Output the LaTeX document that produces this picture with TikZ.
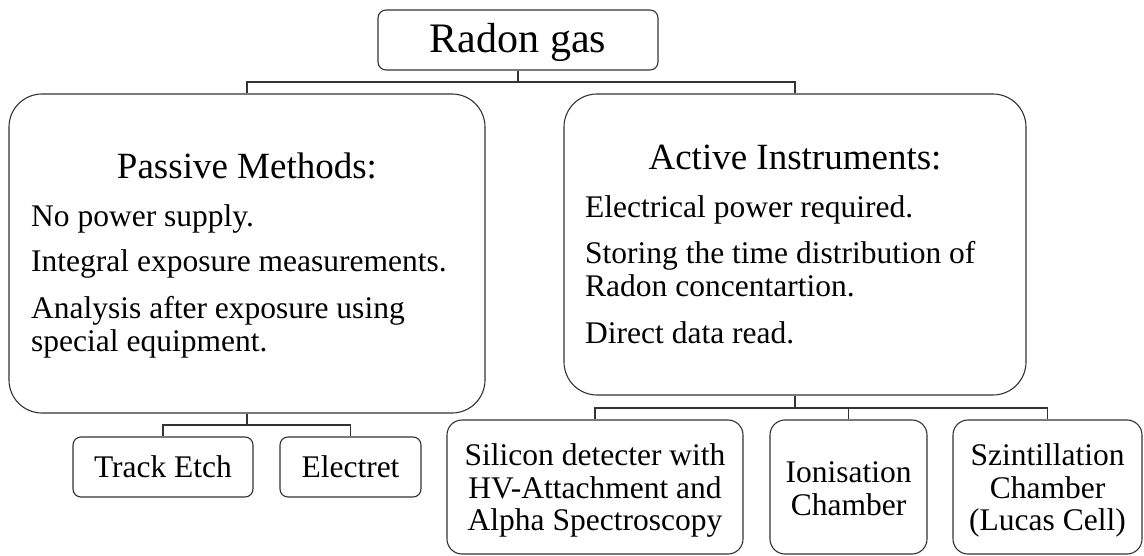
\documentclass[tikz,border=0pt]{standalone}
\usepackage{fontspec}
\setmainfont{Liberation Serif}
\begin{document}
\begin{tikzpicture}[x=1pt,y=-1pt,
  box/.style={draw=black!80, line width=1.1pt, inner sep=0pt, fill=white},
  bigbox/.style={box, rounded corners=33pt},
  smallbox/.style={box, rounded corners=8pt},
  childbox/.style={box, rounded corners=15pt},
  conn/.style={draw=black!80, line width=1.1pt},
  txt/.style={inner sep=0pt, font=\fontsize{31.5}{33}\selectfont},
  head/.style={inner sep=0pt, anchor=base, font=\fontsize{37}{40}\selectfont},
]
\useasboundingbox (0,0) rectangle (1144,556);
% boxes
\node[smallbox, minimum width=280pt, minimum height=60pt] (radon) at (518,40) {};
\node[bigbox, minimum width=476pt, minimum height=319pt] (passive) at (247,253.5) {};
\node[bigbox, minimum width=462pt, minimum height=301pt] (active) at (795,244.5) {};
\node[smallbox, minimum width=180pt, minimum height=60pt] (track) at (163,467) {};
\node[smallbox, minimum width=141pt, minimum height=60pt] (electret) at (350.5,467) {};
\node[childbox, minimum width=296pt, minimum height=134pt] (silicon) at (595,487) {};
\node[childbox, minimum width=157pt, minimum height=134pt] (ion) at (848.5,487) {};
\node[childbox, minimum width=189pt, minimum height=134pt] (szint) at (1047.5,487) {};
% junctions
\coordinate (j1) at (518,82);
\coordinate (j2) at (247,425);
\coordinate (j3) at (795,408);
\draw[conn] (radon.south) -- (j1);
\draw[conn] (j1) -| (passive.north);
\draw[conn] (j1) -| (active.north);
\draw[conn] (passive.south) -- (j2);
\draw[conn] (j2) -| (track.north);
\draw[conn] (j2) -| (electret.north);
\draw[conn] (active.south) -- (j3);
\draw[conn] (j3) -| (silicon.north);
\draw[conn] (j3) -| (ion.north);
\draw[conn] (j3) -| (szint.north);
% texts
\node[inner sep=0pt, anchor=base, font=\fontsize{42}{44}\selectfont] (radontxt) at (518,53) {Radon gas};
\node[head] (passhead) at (247,179) {Passive Methods:};
\node[txt, anchor=base west] (p1) at (31,227) {No power supply.};
\node[txt, anchor=base west] (p2) at (31,272) {Integral exposure measurements.};
\node[txt, anchor=base west] (p3a) at (31,319) {Analysis after exposure using};
\node[txt, anchor=base west] (p3b) at (31,352) {special equipment.};
\node[head] (acthead) at (795,170) {Active Instruments:};
\node[txt, anchor=base west] (a1) at (585,218) {Electrical power required.};
\node[txt, anchor=base west] (a2a) at (585,264) {Storing the time distribution of};
\node[txt, anchor=base west] (a2b) at (585,297) {Radon concentartion.};
\node[txt, anchor=base west] (a3) at (585,343) {Direct data read.};
\node[txt, anchor=base] (tracktxt) at (163,477) {Track Etch};
\node[txt, anchor=base] (electxt) at (350.5,477) {Electret};
\node[txt, anchor=base] (s1) at (595,465) {Silicon detecter with};
\node[txt, anchor=base] (s2) at (595,498) {HV-Attachment and};
\node[txt, anchor=base] (s3) at (595,530) {Alpha Spectroscopy};
\node[txt, anchor=base] (i1) at (848.5,482) {Ionisation};
\node[txt, anchor=base] (i2) at (848.5,515) {Chamber};
\node[txt, anchor=base] (z1) at (1047.5,465) {Szintillation};
\node[txt, anchor=base] (z2) at (1047.5,498) {Chamber};
\node[txt, anchor=base] (z3) at (1047.5,530) {(Lucas Cell)};
\end{tikzpicture}
\end{document}
